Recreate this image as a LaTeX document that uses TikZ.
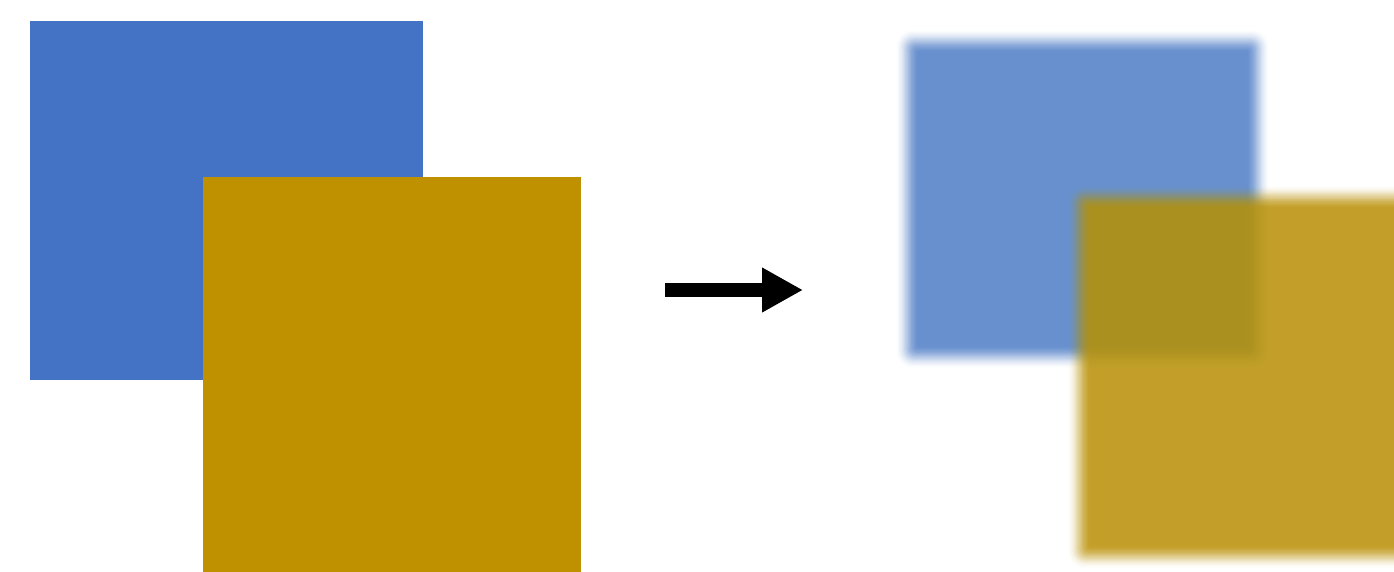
\documentclass[tikz,border=0pt]{standalone}
\usetikzlibrary{arrows.meta}

\definecolor{boxblue}{HTML}{4472C4}
\definecolor{boxgold}{HTML}{BF9000}
\definecolor{softblue}{HTML}{6890CE}
\definecolor{softgold}{HTML}{BA9007}

% A rectangle with soft edges: 20 nested layers whose opacities build a
% smooth ramp from 0 to #2 across a band of +-12 units around each edge.
% #1 colour, #2 final opacity, (#3,#4) top-left, (#5,#6) bottom-right
\newcommand\softrect[6]{%
  \foreach \k in {1,...,20} {
    \pgfmathsetmacro\ta{(\k-1)/20}
    \pgfmathsetmacro\tb{\k/20}
    \pgfmathsetmacro\Aprev{#2*\ta*\ta*(3-2*\ta)}
    \pgfmathsetmacro\Anow{#2*\tb*\tb*(3-2*\tb)}
    \pgfmathsetmacro\op{(\Anow-\Aprev)/(1-\Aprev)}
    \pgfmathsetmacro\dd{12-24*(\k-0.5)/20}
    \pgfmathsetmacro\rr{max(0.5,0.7*(\dd+12))}
    \fill[#1, fill opacity=\op, rounded corners=\rr pt]
      (#3-\dd,#4-\dd) rectangle (#5+\dd,#6+\dd);
  }%
}

\tikzset{
  sharpbox/.style={draw=none, rectangle, inner sep=0pt, outer sep=0pt, anchor=north west},
  bigarrow/.style={line width=14pt, line cap=butt,
    -{Triangle[length=41pt, width=42pt]}},
}

\begin{document}
\begin{tikzpicture}[x=1pt, y=-1pt]
  \useasboundingbox (0,0) rectangle (1394,572);
  \clip (0,0) rectangle (1394,572);

  % sharp squares
  \node[sharpbox, fill=boxblue, minimum width=393pt, minimum height=359pt] (sharpblue) at (30,21) {};
  \node[sharpbox, fill=boxgold, minimum width=378pt, minimum height=400pt] (sharpgold) at (203,177) {};

  % arrow between the two versions
  \coordinate (arrowtail) at (665,290);
  \coordinate (arrowtip) at (803,290);
  \draw[bigarrow] (arrowtail) -- (arrowtip);

  % softened squares
  \softrect{softblue}{1}{907}{41}{1258}{357}
  \softrect{softgold}{0.86}{1079}{197}{1440}{557}
\end{tikzpicture}
\end{document}
